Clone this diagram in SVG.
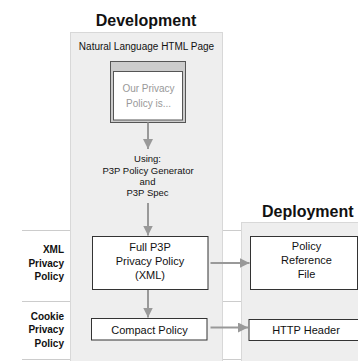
<svg xmlns="http://www.w3.org/2000/svg" width="358" height="361" viewBox="0 0 358 361">
<defs>
<style>
text{font-family:"Liberation Sans",Arial,sans-serif;fill:#111}
.title{font-size:16px;font-weight:bold}
.lbl{font-size:10px;font-weight:bold;text-anchor:end}
.box{fill:#fff;stroke:#333;stroke-width:1}
.t11{font-size:11px;text-anchor:middle}
.t10{font-size:10px;text-anchor:middle}
.t9{font-size:9.5px;text-anchor:middle}
.panel{fill:#eeeeee;stroke:#d8d8d8;stroke-width:1}
.row{stroke:#cccccc;stroke-width:1}
.conn{stroke:#999;stroke-width:2;fill:none;marker-end:url(#ah)}
</style>
<marker id="ah" viewBox="0 0 10 10" refX="10" refY="5" markerWidth="5" markerHeight="5" markerUnits="strokeWidth" orient="auto">
<path d="M0,0 L10,5 L0,10 z" fill="#999"/>
</marker>
</defs>
<rect width="358" height="361" fill="#fff"/>
<g id="rows">
<line class="row" x1="22" y1="230.5" x2="358" y2="230.5"/>
<line class="row" x1="22" y1="301.5" x2="358" y2="301.5"/>
<line class="row" x1="22" y1="359.5" x2="358" y2="359.5"/>
</g>
<g id="row-labels">
<text class="lbl" x="64" y="253">XML</text>
<text class="lbl" x="64" y="266.5">Privacy</text>
<text class="lbl" x="64" y="280">Policy</text>
<text class="lbl" x="64" y="319.5">Cookie</text>
<text class="lbl" x="64" y="333">Privacy</text>
<text class="lbl" x="64" y="346.5">Policy</text>
</g>
<g id="development">
<rect class="panel" x="70.5" y="32.5" width="152" height="340"/>
<text class="title" x="146" y="26" text-anchor="middle">Development</text>
<text class="t10" x="146.5" y="50">Natural Language HTML Page</text>
</g>
<g id="deployment">
<rect class="panel" x="241.5" y="222.5" width="130" height="150"/>
<text class="title" x="262" y="217">Deployment</text>
</g>
<g id="html-page">
<rect x="110.5" y="61.5" width="75" height="61" fill="#cccccc" stroke="#555" stroke-width="1"/>
<rect x="113.5" y="71.5" width="69" height="48.5" fill="#fff" stroke="#555" stroke-width="1"/>
<text class="t10" x="148.5" y="92" style="fill:#999">Our Privacy</text>
<text class="t10" x="148.5" y="106.5" style="fill:#999">Policy is...</text>
</g>
<g id="using">
<text class="t9" x="147.5" y="162">Using:</text>
<text class="t9" x="148" y="174">P3P Policy Generator</text>
<text class="t9" x="147.5" y="185">and</text>
<text class="t9" x="147.5" y="196">P3P Spec</text>
</g>
<g id="full-policy">
<rect class="box" x="92.5" y="236.5" width="115.5" height="53"/>
<text class="t11" x="150" y="251">Full P3P</text>
<text class="t11" x="150" y="265">Privacy Policy</text>
<text class="t11" x="150" y="279">(XML)</text>
</g>
<g id="compact-policy">
<rect class="box" x="91.5" y="318.5" width="115.5" height="21.5"/>
<text class="t11" x="149.5" y="333.5">Compact Policy</text>
</g>
<g id="policy-reference">
<rect class="box" x="250.5" y="236.5" width="107" height="53"/>
<text class="t11" x="306.5" y="250">Policy</text>
<text class="t11" x="306.5" y="264">Reference</text>
<text class="t11" x="306.5" y="278">File</text>
</g>
<g id="http-header">
<rect class="box" x="249" y="319.5" width="120" height="21"/>
<text class="t11" x="306" y="334">HTTP Header</text>
</g>
<g id="connectors">
<line class="conn" x1="148" y1="122.5" x2="148" y2="149"/>
<line class="conn" x1="148" y1="203" x2="148" y2="235.5"/>
<line class="conn" x1="148" y1="290" x2="148" y2="317.5"/>
<line class="conn" x1="210.5" y1="263" x2="249.5" y2="263"/>
<line class="conn" x1="210.5" y1="327.5" x2="248" y2="327.5"/>
</g>
</svg>
